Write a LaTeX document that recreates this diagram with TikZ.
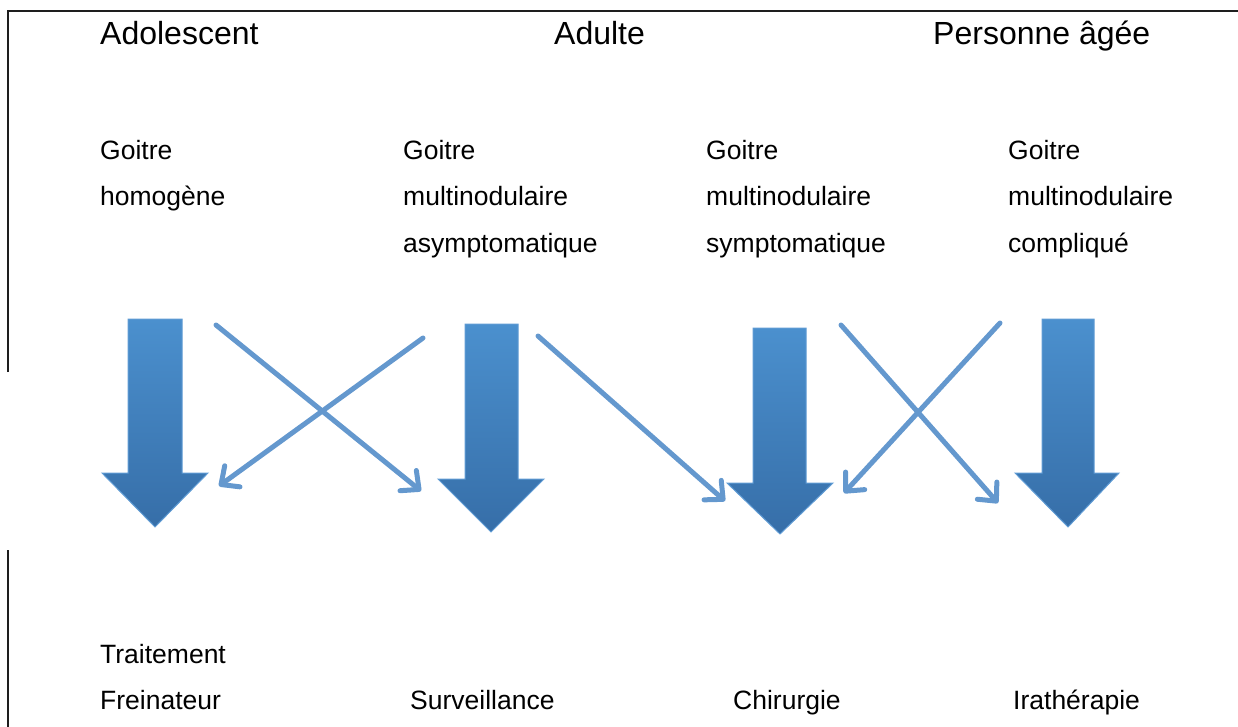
\documentclass[tikz,border=0pt]{standalone}
\usepackage{fontspec}
\setmainfont{Liberation Sans}
\usetikzlibrary{arrows.meta}
\definecolor{thinblue}{RGB}{100,152,206}
\definecolor{toptint}{RGB}{75,144,206}
\definecolor{bottint}{RGB}{54,110,168}
\definecolor{edgeblue}{RGB}{95,155,212}
\definecolor{framegray}{RGB}{30,30,30}
\tikzset{
  titletext/.style={anchor=base west, inner sep=0pt, font=\fontsize{32}{36}\selectfont},
  bodytext/.style={anchor=base west, inner sep=0pt, font=\fontsize{26.5}{30}\selectfont},
  blockarrow/.style={top color=toptint, bottom color=bottint, draw=edgeblue, line width=1pt, line join=miter},
  thinarrow/.style={draw=thinblue, line width=5pt, line cap=round,
    -{Straight Barb[length=14pt,width=26pt,line cap=round,round]}},
  framestyle/.style={draw=framegray, line width=1.5pt}
}
\begin{document}
\begin{tikzpicture}[x=1pt,y=-1pt]
\useasboundingbox (0,0) rectangle (1238,727);
% frame
\draw[framestyle] (8,372) -- (8,11) -- (1238,11);
\draw[framestyle] (8,550) -- (8,727);
% titles
\node[titletext] (tA) at (100,45) {Adolescent};
\node[titletext] (tB) at (554,45) {Adulte};
\node[titletext] (tC) at (933,45) {Personne âgée};
% column texts
\node[bodytext] (a1) at (100,160) {Goitre};
\node[bodytext] (a2) at (100,206) {homogène};
\node[bodytext] (b1) at (403,160) {Goitre};
\node[bodytext] (b2) at (403,206) {multinodulaire};
\node[bodytext] (b3) at (403,252) {asymptomatique};
\node[bodytext] (c1) at (706,160) {Goitre};
\node[bodytext] (c2) at (706,206) {multinodulaire};
\node[bodytext] (c3) at (706,252) {symptomatique};
\node[bodytext] (d1) at (1008,160) {Goitre};
\node[bodytext] (d2) at (1008,206) {multinodulaire};
\node[bodytext] (d3) at (1008,252) {compliqué};
% bottom texts
\node[bodytext] (r0) at (100,663) {Traitement};
\node[bodytext] (r1) at (100,709) {Freinateur};
\node[bodytext] (r2) at (410,709) {Surveillance};
\node[bodytext] (r3) at (733,709) {Chirurgie};
\node[bodytext] (r4) at (1013,709) {Irathérapie};
% block arrows
\path[blockarrow] (128,319) -- (182,319) -- (182,473) -- (208,473) -- (155,527) -- (102,473) -- (128,473) -- cycle;
\path[blockarrow] (465,324) -- (518,324) -- (518,479) -- (544,479) -- (491,532) -- (438,479) -- (465,479) -- cycle;
\path[blockarrow] (753,328) -- (806,328) -- (806,483) -- (833,483) -- (780,534) -- (727,483) -- (753,483) -- cycle;
\path[blockarrow] (1042,319) -- (1094,319) -- (1094,473) -- (1119,473) -- (1068,527) -- (1015,473) -- (1042,473) -- cycle;
% thin arrow endpoints
\coordinate (s1) at (216,325);
\coordinate (e1) at (421,491);
\coordinate (s2) at (423,338);
\coordinate (e2) at (219,486);
\coordinate (s3) at (538,336);
\coordinate (e3) at (725,501);
\coordinate (s4) at (841,325);
\coordinate (e4) at (998,503);
\coordinate (s5) at (1000,323);
\coordinate (e5) at (844,493);
\draw[thinarrow] (s1) -- (e1);
\draw[thinarrow] (s2) -- (e2);
\draw[thinarrow] (s3) -- (e3);
\draw[thinarrow] (s4) -- (e4);
\draw[thinarrow] (s5) -- (e5);
\end{tikzpicture}
\end{document}
